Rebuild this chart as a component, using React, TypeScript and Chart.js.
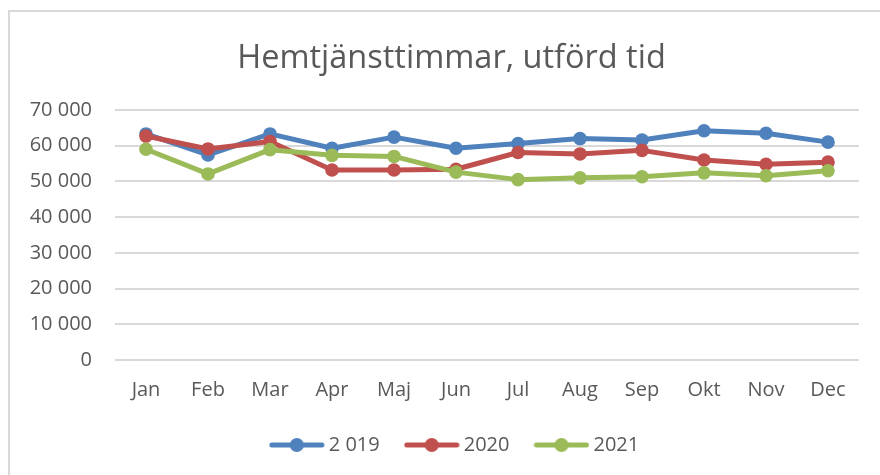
import React, { useEffect, useRef } from "react";
import { Chart, registerables } from "chart.js";

Chart.register(...registerables);

const chartTitle = "Hemtjänsttimmar, utförd tid";
const months = ["Jan", "Feb", "Mar", "Apr", "Maj", "Jun", "Jul", "Aug", "Sep", "Okt", "Nov", "Dec"];
const seriesLabels = ["2 019", "2020", "2021"];
const values2019 = [63300, 57400, 63300, 59300, 62400, 59300, 60600, 62000, 61600, 64200, 63500, 61000];
const values2020 = [62700, 59100, 61200, 53200, 53200, 53400, 58100, 57700, 58700, 56000, 54800, 55400];
const values2021 = [59000, 52100, 58900, 57300, 57000, 52600, 50500, 51000, 51300, 52400, 51600, 53000];
const yMin = 0;
const yMax = 70000;
const yStep = 10000;

const seriesColors = ["#4f81bd", "#c0504d", "#9bbb59"];
const textColor = "#595959";
const gridColor = "#d9d9d9";
const fontFamily = "'Open Sans', sans-serif";

function formatThousands(v: number): string {
  return String(v).replace(/\B(?=(\d{3})+(?!\d))/g, " ");
}

function makeMarker(color: string): HTMLCanvasElement {
  const c = document.createElement("canvas");
  c.width = 56;
  c.height = 16;
  const ctx = c.getContext("2d")!;
  ctx.strokeStyle = color;
  ctx.lineWidth = 5;
  ctx.lineCap = "round";
  ctx.beginPath();
  ctx.moveTo(3, 8);
  ctx.lineTo(53, 8);
  ctx.stroke();
  ctx.fillStyle = color;
  ctx.beginPath();
  ctx.arc(28, 8, 7, 0, Math.PI * 2);
  ctx.fill();
  return c;
}

// Moves the title and legend boxes so that they are centred like the reference.
const centreBoxesPlugin = {
  id: "centreBoxes",
  afterLayout(chart: any) {
    if (chart.titleBlock) chart.titleBlock.left = 44;
    if (chart.legend) chart.legend.left = 55;
  },
};

export default function App() {
  const canvasRef = useRef<HTMLCanvasElement | null>(null);

  useEffect(() => {
    const canvas = canvasRef.current;
    if (!canvas) return;
    const markers = seriesColors.map(makeMarker);
    const allSeries = [values2019, values2020, values2021];
    const datasets = allSeries.map((data, i) => ({
      label: seriesLabels[i],
      data,
      borderColor: seriesColors[i],
      backgroundColor: seriesColors[i],
      borderWidth: 5,
      pointRadius: 6.8,
      pointBorderWidth: 0,
      pointBackgroundColor: seriesColors[i],
      pointBorderColor: seriesColors[i],
      borderJoinStyle: "round" as const,
      borderCapStyle: "round" as const,
      tension: 0,
      order: 3 - i,
    }));

    const chart = new Chart(canvas, {
      type: "line",
      data: { labels: months, datasets },
      plugins: [centreBoxesPlugin],
      options: {
        animation: false,
        responsive: false,
        devicePixelRatio: 1,
        layout: { padding: { left: 0, right: 21, top: 0, bottom: 10 } },
        plugins: {
          title: {
            display: true,
            text: chartTitle,
            color: textColor,
            font: { family: fontFamily, size: 32.5, weight: "normal", lineHeight: 1.2 },
            padding: { top: 39, bottom: 32 },
          },
          legend: {
            display: true,
            position: "bottom",
            labels: {
              usePointStyle: true,
              pointStyleWidth: 44,
              padding: 30,
              color: textColor,
              font: { family: fontFamily, size: 20 },
              generateLabels: (ch: any) =>
                ch.data.datasets.map((ds: any, i: number) => ({
                  text: ds.label,
                  pointStyle: markers[i],
                  fillStyle: seriesColors[i],
                  strokeStyle: seriesColors[i],
                  lineWidth: 0,
                  hidden: false,
                  datasetIndex: i,
                  fontColor: textColor,
                })),
            },
          },
          tooltip: { enabled: false },
        },
        scales: {
          x: {
            offset: true,
            grid: { display: false, drawTicks: false },
            border: { display: false },
            ticks: { color: textColor, font: { family: fontFamily, size: 20 }, padding: 18, maxRotation: 0 },
            afterFit: (s: any) => {
              s.height = 45;
            },
          },
          y: {
            min: yMin,
            max: yMax,
            grid: { color: gridColor, lineWidth: 2, drawTicks: false },
            border: { display: false },
            ticks: {
              stepSize: yStep,
              color: textColor,
              font: { family: fontFamily, size: 20 },
              padding: 23,
              callback: (v: any) => formatThousands(Number(v)),
            },
            afterFit: (s: any) => {
              s.width = 115;
            },
          },
        },
      },
    });
    return () => chart.destroy();
  }, []);

  return (
    <div style={{ position: "absolute", left: 0, top: 0, width: 880, height: 475, overflow: "hidden", background: "#fff" }}>
      <div
        style={{
          position: "absolute",
          left: 8,
          top: 10,
          width: 2000,
          height: 2000,
          borderLeft: "2px solid #d9d9d9",
          borderTop: "2px solid #d9d9d9",
        }}
      />
      <canvas ref={canvasRef} width={880} height={475} style={{ position: "absolute", left: 0, top: 0, display: "block" }} />
    </div>
  );
}
